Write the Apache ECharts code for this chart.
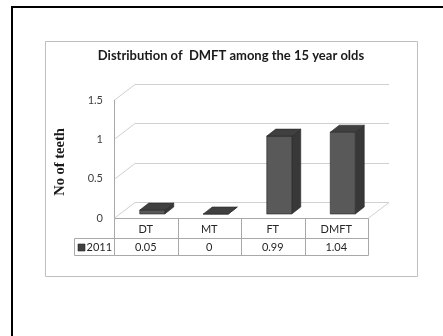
<!DOCTYPE html>
<html><head><meta charset="utf-8">
<script src="https://cdn.jsdelivr.net/npm/echarts@6/dist/echarts.min.js"></script>
<style>html,body{margin:0;padding:0;background:#fff}#c{width:443px;height:336px}</style>
</head><body><div id="c"></div>
<script>
const categories = ['DT', 'MT', 'FT', 'DMFT'];
const values = [0.05, 0, 0.99, 1.04];
const seriesName = '2011';
const yTicks = [0, 0.5, 1, 1.5];
const titleText = 'Distribution of  DMFT among the 15 year olds';
const yName = 'No of teeth';

const FONT = 'Lato, "Open Sans", sans-serif';
const DX = 21, DY = -16;
const GRID_C = '#d0d0d0';
const TABLE_C = '#a8a8a8';

const chart = echarts.init(document.getElementById('c'), null, {renderer: 'canvas'});

function wallRender(params, api) {
  const cs = params.coordSys;
  const L = cs.x, R = cs.x + cs.width;
  const y0 = api.coord([0, 0])[1];
  const yTop = api.coord([0, yTicks[yTicks.length - 1]])[1];
  const ch = [];
  const st = {stroke: GRID_C, lineWidth: 1, fill: null};
  yTicks.forEach(t => {
    const y = Math.round(api.coord([0, t])[1]) + 0.5;
    ch.push({type: 'polyline', shape: {points: [[L, y], [L + DX, y + DY], [R + DX, y + DY]]}, style: st, silent: true});
  });
  ch.push({type: 'line', shape: {x1: R, y1: Math.round(y0) + 0.5, x2: R + DX, y2: Math.round(y0) + 0.5 + DY}, style: st, silent: true});
  ch.push({type: 'line', shape: {x1: Math.round(L) + 0.5, y1: yTop, x2: Math.round(L) + 0.5, y2: y0}, style: {stroke: TABLE_C, lineWidth: 1}, silent: true});
  return {type: 'group', children: ch};
}

function barRender(params, api) {
  const i = api.value(0), v = api.value(1);
  const base = api.coord([i, 0]);
  const top = api.coord([i, v]);
  const w = 25, fx = 6.5, fy = -4, dx = 9, dy = -7;
  const x1 = base[0] + fx - w / 2, x2 = x1 + w;
  const yb = base[1] + fy, yt = top[1] + fy;
  const edge = '#262626';
  return {
    type: 'group',
    children: [
      {type: 'polygon', shape: {points: [[x2, yt], [x2 + dx, yt + dy], [x2 + dx, yb + dy], [x2, yb]]}, style: {fill: '#383838', stroke: edge, lineWidth: 0.6}},
      {type: 'rect', shape: {x: x1, y: yt, width: w, height: yb - yt}, style: {fill: '#595959', stroke: edge, lineWidth: 0.6}},
      {type: 'polygon', shape: {points: [[x1, yt], [x2, yt], [x2 + dx, yt + dy], [x1 + dx, yt + dy]]}, style: {fill: '#404040', stroke: edge, lineWidth: 0.6}}
    ]
  };
}

function tableRender(params, api) {
  const i = api.value(0), v = api.value(1);
  const c = api.coord([i, 0]);
  const half = api.size([1, 0])[0] / 2;
  const xL = Math.round(c[0] - half) + 0.5, xR = Math.round(c[0] + half) + 0.5;
  const y0 = Math.round(c[1]) + 0.5, y1 = y0 + 20, y2 = y0 + 37;
  const st = {stroke: TABLE_C, lineWidth: 1, fill: null};
  const tst = {fill: '#262626', font: '11px ' + FONT, align: 'center', verticalAlign: 'middle'};
  const ch = [
    {type: 'polyline', shape: {points: [[xL, y0], [xL, y2], [xR, y2], [xR, y0], [xL, y0]]}, style: st},
    {type: 'line', shape: {x1: xL, y1: y1, x2: xR, y2: y1}, style: st},
    {type: 'text', style: Object.assign({}, tst, {text: categories[i], x: c[0], y: y0 + 11})},
    {type: 'text', style: Object.assign({}, tst, {text: String(v), x: c[0], y: y1 + 9})}
  ];
  if (i === 0) {
    const lx = xL - 40;
    ch.push({type: 'polyline', shape: {points: [[xL, y1], [lx, y1], [lx, y2], [xL, y2]]}, style: st});
    ch.push({type: 'rect', shape: {x: lx + 3.5, y: y1 + 5.5, width: 7, height: 7}, style: {fill: '#404040', stroke: '#262626', lineWidth: 0.6}});
    ch.push({type: 'text', style: Object.assign({}, tst, {text: seriesName, x: lx + 12, y: y1 + 9, align: 'left'})});
  }
  return {type: 'group', children: ch};
}

chart.setOption({
  animation: false,
  backgroundColor: '#fff',
  grid: {left: 114, right: 75, top: 100, bottom: 118},
  xAxis: {type: 'category', data: categories, axisLine: {show: false}, axisTick: {show: false}, axisLabel: {show: false}, splitLine: {show: false}},
  yAxis: {
    type: 'value', min: 0, max: 1.5, interval: 0.5,
    axisLine: {show: false}, axisTick: {show: false}, splitLine: {show: false},
    axisLabel: {margin: 11, color: '#404040', fontSize: 11, fontFamily: FONT, padding: [4, 0, 0, 0]}
  },
  graphic: [
    {type: 'rect', shape: {x: 12, y: 7, width: 440, height: 340}, style: {fill: null, stroke: '#000', lineWidth: 2}, silent: true},
    {type: 'rect', shape: {x: 45.5, y: 41.5, width: 372, height: 235}, style: {fill: null, stroke: '#bfbfbf', lineWidth: 1}, silent: true},
    {type: 'text', x: 231, y: 56, style: {text: titleText, font: 'bold 13px ' + FONT, fill: '#1a1a1a', align: 'center', verticalAlign: 'middle'}},
    {type: 'text', x: 60, y: 162, rotation: Math.PI / 2, style: {text: yName, font: 'bold 14.5px "Liberation Serif", serif', fill: '#1a1a1a', align: 'center', verticalAlign: 'middle'}}
  ],
  series: [
    {type: 'custom', name: 'walls', data: [[0, 0]], renderItem: wallRender, silent: true, z: 1, clip: false},
    {type: 'custom', name: seriesName, data: values.map((v, i) => [i, v]), renderItem: barRender, z: 3, clip: false},
    {type: 'custom', name: 'table', data: values.map((v, i) => [i, v]), renderItem: tableRender, silent: true, z: 2, clip: false}
  ]
});
</script>
</body></html>
